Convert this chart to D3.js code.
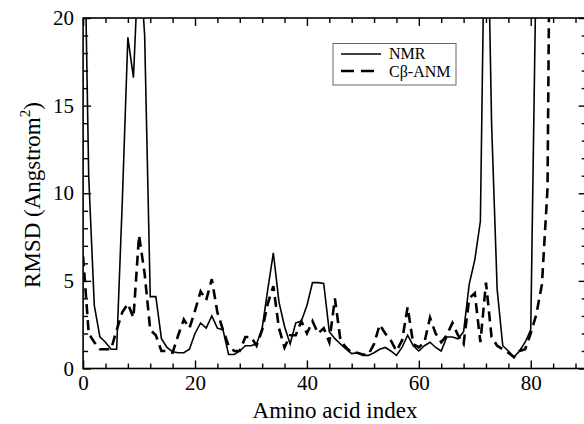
<!DOCTYPE html>
<html>
<head>
<meta charset="utf-8">
<script src="https://cdn.jsdelivr.net/npm/d3@7"></script>
<style>
html,body{margin:0;padding:0;background:#fff;}
svg{display:block;font-family:"Liberation Serif","Times New Roman",serif;}
</style>
</head>
<body>
<svg id="chart" width="584" height="424"></svg>
<script>
// ---- data ----
const nmr = [30,11,3.6,1.8,1.5,1.1,1.1,9.5,18.9,16.6,
  24,19,4.1,4.1,1.7,1.2,0.95,0.9,0.9,1.1,
  2.0,2.6,2.3,3.0,2.3,2.2,0.8,0.8,1.0,1.3,
  1.3,1.4,2.3,4.5,6.6,3.8,2.4,1.4,2.6,2.7,
  3.6,4.9,4.9,4.85,2.1,1.7,1.4,1.1,0.85,0.9,
  0.75,0.75,0.9,1.1,1.2,1.0,0.75,1.2,1.9,1.3,
  1.0,1.3,1.5,1.2,1.0,1.8,1.8,1.7,2.1,4.8,
  6.2,8.4,31.6,14,4.5,1.3,1.0,0.65,1.0,1.5,
  2.2,24,40,50,50];
const anm = [6.4,2.0,1.5,1.1,1.1,1.1,2.2,3.2,3.7,2.9,
  7.6,5.4,2.2,1.9,1.0,1.0,0.9,1.9,2.8,2.3,
  3.3,4.4,3.9,5.1,3.2,2.2,1.3,1.0,1.0,1.8,
  1.8,1.3,2.2,3.7,4.7,2.3,1.2,1.9,1.9,2.7,
  2.0,2.7,2.0,2.3,1.5,4.0,1.6,1.2,0.9,0.9,
  0.8,0.8,1.4,2.5,2.0,1.6,1.0,1.6,3.5,1.4,
  1.2,1.5,2.9,2.0,1.5,1.9,2.6,1.9,1.4,4.0,
  4.3,1.5,4.9,1.8,1.3,1.1,0.9,0.65,1.0,1.1,
  2.0,3.1,4.8,10.3,50];
const seriesNames = ["NMR", "C\u03B2-ANM"];
const xMajorTicks = [0,20,40,60,80];
const yMajorTicks = [0,5,10,15,20];
const xLabel = "Amino acid index";
const yLabel = "RMSD (Angstrom";

// ---- layout ----
const FONT = '"Liberation Serif","Times New Roman",serif';
const svg = d3.select("#chart");
const pL = 83.1, pR = 586.7, pT = 18, pB = 368.5;
const x = d3.scaleLinear().domain([0,90]).range([pL,pR]);
const y = d3.scaleLinear().domain([0,20]).range([pB,pT]);

const xMinor = d3.range(0, 91, 4).filter(v => xMajorTicks.indexOf(v) < 0);
const yMinor = d3.range(0, 21, 1).filter(v => yMajorTicks.indexOf(v) < 0);

svg.append("defs").append("clipPath").attr("id","clip")
  .append("rect").attr("x",pL).attr("y",pT).attr("width",pR-pL).attr("height",pB-pT);

// data lines
const line = d3.line().x((d,i)=>x(i)).y(d=>y(d));
const g = svg.append("g").attr("clip-path","url(#clip)");
g.append("path").datum(nmr).attr("d",line)
  .attr("fill","none").attr("stroke","#000").attr("stroke-width",1.6);
g.append("path").datum(anm).attr("d",line)
  .attr("fill","none").attr("stroke","#000").attr("stroke-width",2.6)
  .attr("stroke-dasharray","10,6");

// axes
function styleAxis(sel){
  sel.attr("font-family", null);
  sel.select(".domain").remove();
  sel.selectAll("line").attr("stroke","#000").attr("stroke-width",1.4);
  sel.selectAll("text").attr("fill","#000").style("font-family",FONT).style("font-size","21px");
}
function addAxis(axis, tx, ty){
  const s = svg.append("g").attr("transform",`translate(${tx},${ty})`).call(axis);
  styleAxis(s);
  return s;
}
addAxis(d3.axisBottom(x).tickValues(xMajorTicks).tickSize(-8).tickPadding(7).tickFormat(d3.format("d")), 0, pB);
addAxis(d3.axisBottom(x).tickValues(xMinor).tickSize(-5).tickFormat(""), 0, pB);
addAxis(d3.axisTop(x).tickValues(xMajorTicks).tickSize(-8).tickFormat(""), 0, pT);
addAxis(d3.axisTop(x).tickValues(xMinor).tickSize(-5).tickFormat(""), 0, pT);
addAxis(d3.axisLeft(y).tickValues(yMajorTicks).tickSize(-8).tickPadding(9).tickFormat(d3.format("d")), pL, 0);
addAxis(d3.axisLeft(y).tickValues(yMinor).tickSize(-5).tickFormat(""), pL, 0);
addAxis(d3.axisRight(y).tickValues(yMajorTicks).tickSize(-8).tickFormat(""), pR, 0);
addAxis(d3.axisRight(y).tickValues(yMinor).tickSize(-5).tickFormat(""), pR, 0);

// frame
svg.append("rect").attr("x",pL).attr("y",pT).attr("width",pR-pL).attr("height",pB-pT)
  .attr("fill","none").attr("stroke","#000").attr("stroke-width",1.6);

// axis titles
svg.append("text").attr("x",335).attr("y",418).attr("text-anchor","middle")
  .style("font-family",FONT).style("font-size","23px").text(xLabel);
const yl = svg.append("text").attr("transform","translate(40,195) rotate(-90)")
  .attr("text-anchor","middle").style("font-family",FONT).style("font-size","23px");
yl.append("tspan").text(yLabel);
yl.append("tspan").attr("dy",-10).style("font-size","15px").text("2");
yl.append("tspan").attr("dy",10).text(")");

// legend
const lg = svg.append("g");
lg.append("rect").attr("x",333).attr("y",43.5).attr("width",123).attr("height",41.5)
  .attr("fill","#fff").attr("stroke","#666").attr("stroke-width",1);
lg.append("line").attr("x1",341).attr("x2",381).attr("y1",54).attr("y2",54)
  .attr("stroke","#000").attr("stroke-width",1.6);
lg.append("line").attr("x1",341).attr("x2",381).attr("y1",71).attr("y2",71)
  .attr("stroke","#000").attr("stroke-width",2.6).attr("stroke-dasharray","13,7");
lg.append("text").attr("x",389).attr("y",59).style("font-family",FONT).style("font-size","16px").text(seriesNames[0]);
lg.append("text").attr("x",389).attr("y",76.5).style("font-family",FONT).style("font-size","16px").text(seriesNames[1]);
</script>
</body>
</html>
